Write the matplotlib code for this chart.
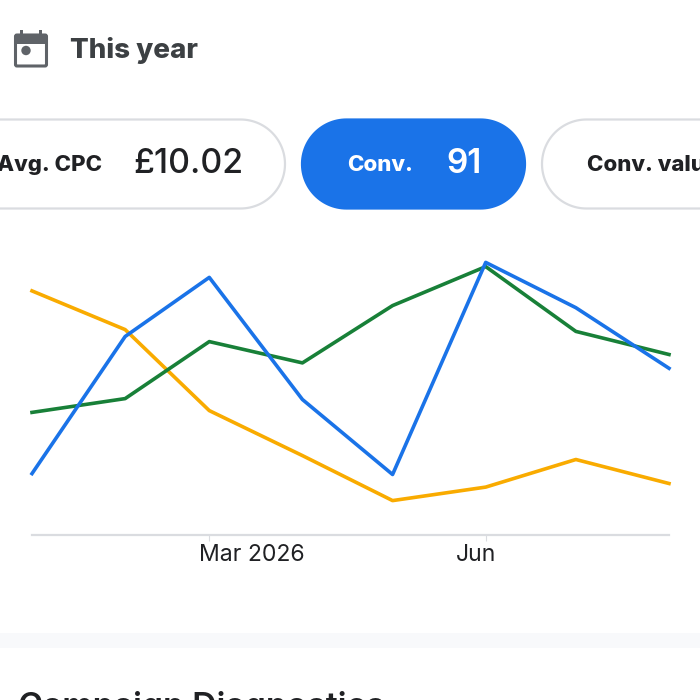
import datetime as dt
import numpy as np
import matplotlib
matplotlib.use("Agg")
import matplotlib.pyplot as plt
import matplotlib.dates as mdates
from matplotlib.patches import FancyBboxPatch, Rectangle, Circle, Polygon
from matplotlib.transforms import ScaledTranslation

months = ["2026-01-01", "2026-02-01", "2026-03-01", "2026-04-01",
          "2026-05-01", "2026-06-01", "2026-07-01", "2026-08-01"]
blue_series = [20.3, 66, 85.7, 45, 20, 90.7, 75.6, 55.4]
green_series = [40.7, 45.3, 64.3, 57.2, 76.3, 89.3, 67.7, 60]
orange_series = [81.2, 68.3, 41.3, 26.3, 11.3, 15.8, 25, 17]
tick_months = ["2026-03-01", "2026-06-01"]
tick_labels = ["Mar 2026", "Jun"]
label_shift_px = [43, -10]

BLUE = "#1a73e8"
GREEN = "#188038"
ORANGE = "#f9ab00"
INK = "#202124"
GREY = "#3c4043"
ICON = "#5f6368"
RULE = "#dadce0"
FONT = ["Inter", "DejaVu Sans"]
W = H = 700
plt.rcParams["font.family"] = FONT

fig = plt.figure(figsize=(7, 7), dpi=100, facecolor="white")

# Page furniture in pixel coordinates (origin top-left)
page = fig.add_axes([0, 0, 1, 1], zorder=0)
page.set_xlim(0, W)
page.set_ylim(H, 0)
page.axis("off")

def pill(x0, x1, fc, ec, y0=119.5, y1=208.5):
    r = (y1 - y0) / 2
    cy = (y0 + y1) / 2
    a = np.linspace(-np.pi / 2, np.pi / 2, 60)
    right = np.column_stack([x1 - r + r * np.cos(a), cy + r * np.sin(a)])
    left = np.column_stack([x0 + r - r * np.cos(a[::-1] * -1), cy + r * np.sin(a[::-1])])
    page.add_patch(Polygon(np.vstack([right, left]), closed=True, fc=fc, ec=ec, lw=1.6, clip_on=True))

pill(-60, 285, "white", RULE)
pill(302, 525, BLUE, BLUE)
pill(542, 860, "white", RULE)

page.add_patch(Rectangle((0, 633), W, 15, fc="#f8f9fb", ec="none"))

# calendar icon
page.add_patch(FancyBboxPatch((15.5, 35), 31, 31, boxstyle="round,pad=0,rounding_size=1.5",
                              fc="white", ec=ICON, lw=2.2))
page.add_patch(Rectangle((15, 34), 32, 9.5, fc=ICON, ec="none"))
page.add_patch(Rectangle((20, 29.5), 3, 6, fc=ICON, ec="none"))
page.add_patch(Rectangle((39, 29.5), 3, 6, fc=ICON, ec="none"))
page.add_patch(Circle((26, 50.5), 4.7, fc=ICON, ec="none"))

page.text(70, 50, "This year", fontsize=20, fontweight="heavy", color=GREY, va="center", ha="left")
page.text(102, 165, "Avg. CPC", fontsize=16, fontweight="heavy", color=INK, va="center", ha="right")
page.text(133, 164, "£10.02", fontsize=24.4, fontweight="medium", color=INK, va="center", ha="left")
page.text(347, 165, "Conv.", fontsize=16, fontweight="heavy", color="white", va="center", ha="left")
page.text(446, 164, "91", fontsize=24, fontweight="semibold", color="white", va="center", ha="left")
page.text(587, 165, "Conv. value", fontsize=16, fontweight="heavy", color=INK, va="center", ha="left")
page.text(18, 707, "Campaign Diagnostics", fontsize=24.3, fontweight="semibold", color=INK, va="center", ha="left")

# Chart
dates = [dt.date.fromisoformat(m) for m in months]
ticks = [dt.date.fromisoformat(m) for m in tick_months]
ax = fig.add_axes([32 / W, (H - 534.5) / H, (669 - 32) / W, 300 / H], zorder=1)
ax.patch.set_alpha(0)
ax.plot(dates, orange_series, color=ORANGE, lw=2.6, clip_on=False)
ax.plot(dates, green_series, color=GREEN, lw=2.6, clip_on=False)
ax.plot(dates, blue_series, color=BLUE, lw=2.6, clip_on=False)
ax.set_xlim(dates[0], dates[-1])
ax.set_ylim(0, 100)
ax.set_yticks([])
for side in ("top", "left", "right"):
    ax.spines[side].set_visible(False)
ax.spines["bottom"].set_color(RULE)
ax.spines["bottom"].set_linewidth(1.6)
ax.set_xticks(mdates.date2num(ticks))
ax.set_xticklabels(tick_labels, fontsize=16.6, color=INK)
ax.tick_params(axis="x", length=4, width=0.8, color=RULE, pad=3)
for lab, shift in zip(ax.get_xticklabels(), label_shift_px):
    lab.set_transform(lab.get_transform() + ScaledTranslation(shift / 100, 0, fig.dpi_scale_trans))

fig.savefig("out.png", dpi=100)
